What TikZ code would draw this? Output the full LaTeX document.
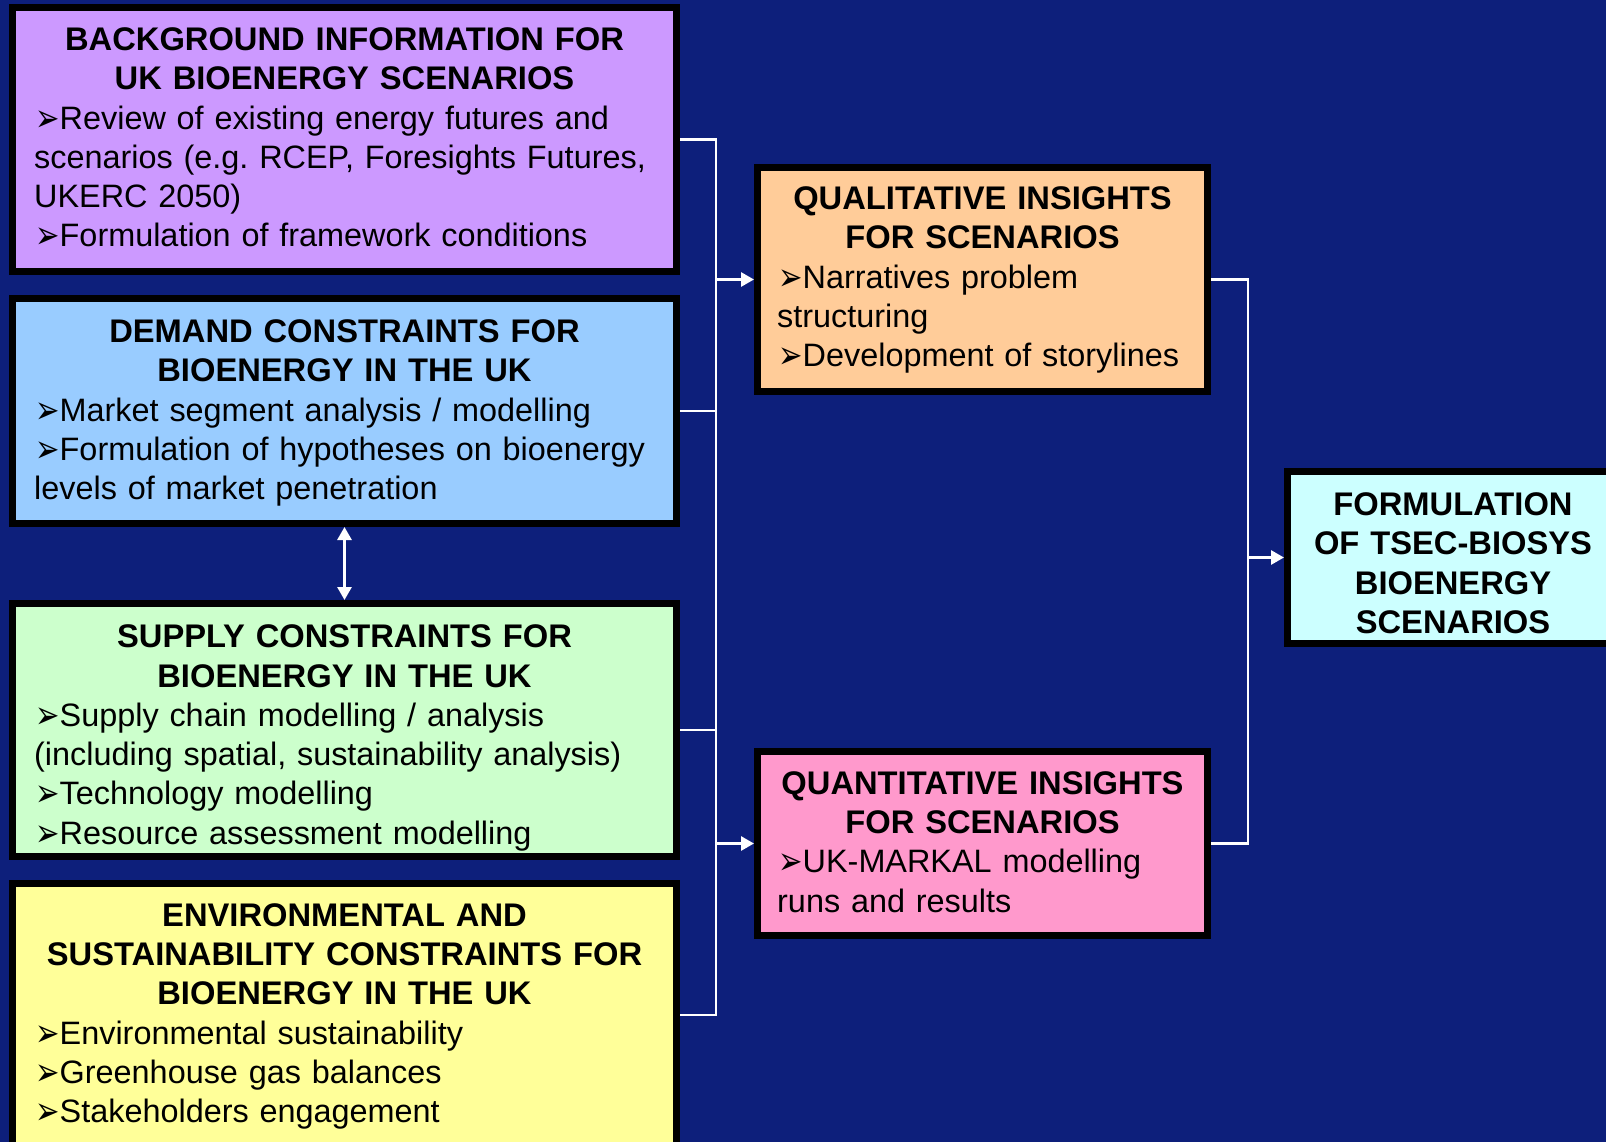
\documentclass[tikz,border=0pt]{standalone}
\usepackage{graphicx}
\usepackage{fontspec}
\setmainfont{Liberation Sans}
\newfontfamily\dejavu{DejaVu Sans}
\usetikzlibrary{arrows.meta}
\frenchspacing
\definecolor{navybg}{RGB}{13,31,123}
\definecolor{cpurple}{RGB}{204,153,255}
\definecolor{cblue}{RGB}{153,204,255}
\definecolor{cgreen}{RGB}{204,255,204}
\definecolor{cyellow}{RGB}{255,255,153}
\definecolor{corange}{RGB}{255,204,153}
\definecolor{cpink}{RGB}{255,153,204}
\definecolor{ccyan}{RGB}{204,255,255}
\newcommand\myblt{\makebox[25.5pt][l]{\hspace{1.5pt}\raisebox{-2pt}{\scalebox{0.9}[1.2]{\dejavu ➢}}}}
\tikzset{
  boxx/.style={draw=black, line width=7pt, rectangle, inner sep=0pt},
  ttl/.style={anchor=base, align=center, inner sep=0pt, font=\fontsize{32.7}{39.3}\selectfont\bfseries},
  bdy/.style={anchor=base west, align=left, text width=700pt, inner sep=0pt, font=\fontsize{32.4}{39.3}\selectfont\frenchspacing},
  conn/.style={draw=white, line width=2.8pt},
  arr/.style={draw=white, line width=2.8pt, -{Triangle[length=13pt,width=14pt]}},
  darr/.style={draw=white, line width=2.8pt, {Triangle[length=13pt,width=14pt]}-{Triangle[length=13pt,width=14pt]}}
}
\begin{document}
\begin{tikzpicture}[x=1pt,y=-1pt]
\fill[navybg] (0,0) rectangle (1606,1142);
\useasboundingbox (0,0) rectangle (1606,1142);

% left boxes
\node[boxx, fill=cpurple, minimum width=664pt, minimum height=264pt] (bg) at (344.5,139.5) {};
\node[boxx, fill=cblue, minimum width=664pt, minimum height=225pt] (dem) at (344.5,411) {};
\node[boxx, fill=cgreen, minimum width=664pt, minimum height=253pt] (sup) at (344.5,730) {};
\node[boxx, fill=cyellow, minimum width=664pt, minimum height=263pt] (env) at (344.5,1015) {};
% middle boxes
\node[boxx, fill=corange, minimum width=450pt, minimum height=224pt] (qual) at (982.5,279.5) {};
\node[boxx, fill=cpink, minimum width=450pt, minimum height=184pt] (quant) at (982.5,843.5) {};
% right box
\node[boxx, fill=ccyan, minimum width=331pt, minimum height=172pt] (form) at (1453,557.5) {};

% texts
\node[ttl, text width=640pt] (bgT) at (344.5,50.5) {BACKGROUND INFORMATION FOR\\UK BIOENERGY SCENARIOS};
\node[bdy] (bgB) at (34,129.1) {\myblt Review of existing energy futures and\\scenarios (e.g. RCEP, Foresights Futures,\\UKERC 2050)\\\myblt Formulation of framework conditions};

\node[ttl, text width=640pt] (demT) at (344.5,342.5) {DEMAND CONSTRAINTS FOR\\BIOENERGY IN THE UK};
\node[bdy] (demB) at (34,421.1) {\myblt Market segment analysis / modelling\\\myblt Formulation of hypotheses on bioenergy\\levels of market penetration};

\node[ttl, text width=640pt] (supT) at (344.5,647.7) {SUPPLY CONSTRAINTS FOR\\BIOENERGY IN THE UK};
\node[bdy] (supB) at (34,726.3) {\myblt Supply chain modelling / analysis\\(including spatial, sustainability analysis)\\\myblt Technology modelling\\\myblt Resource assessment modelling};

\node[ttl, text width=640pt] (envT) at (344.5,926.3) {ENVIRONMENTAL AND\\SUSTAINABILITY CONSTRAINTS FOR\\BIOENERGY IN THE UK};
\node[bdy] (envB) at (34,1044.2) {\myblt Environmental sustainability\\\myblt Greenhouse gas balances\\\myblt Stakeholders engagement};

\node[ttl, text width=440pt] (qualT) at (982.5,209.4) {QUALITATIVE INSIGHTS\\FOR SCENARIOS};
\node[bdy] (qualB) at (777,288) {\myblt Narratives problem\\structuring\\\myblt Development of storylines};

\node[ttl, text width=440pt] (quantT) at (982.5,794.2) {QUANTITATIVE INSIGHTS\\FOR SCENARIOS};
\node[bdy] (quantB) at (777,872.8) {\myblt UK-MARKAL modelling\\runs and results};

\node[ttl, text width=320pt] (formT) at (1453,515.6) {FORMULATION\\OF TSEC-BIOSYS\\BIOENERGY\\SCENARIOS};

% connectors
\coordinate (busL) at (716,0);
\coordinate (busR) at (1248,0);
\draw[conn] (bg.east) -- (bg.east -| busL) -- (env.east -| busL) -- (env.east);
\draw[conn] (dem.east) -- (dem.east -| busL);
\draw[conn] (sup.east) -- (sup.east -| busL);
\draw[arr] (qual.west -| busL) -- (qual.west);
\draw[arr] (quant.west -| busL) -- (quant.west);
\draw[conn] (qual.east) -- (qual.east -| busR) -- (quant.east -| busR) -- (quant.east);
\draw[arr] (form.west -| busR) -- (form.west);
\draw[darr] (dem.south) -- (sup.north);
\end{tikzpicture}
\end{document}
